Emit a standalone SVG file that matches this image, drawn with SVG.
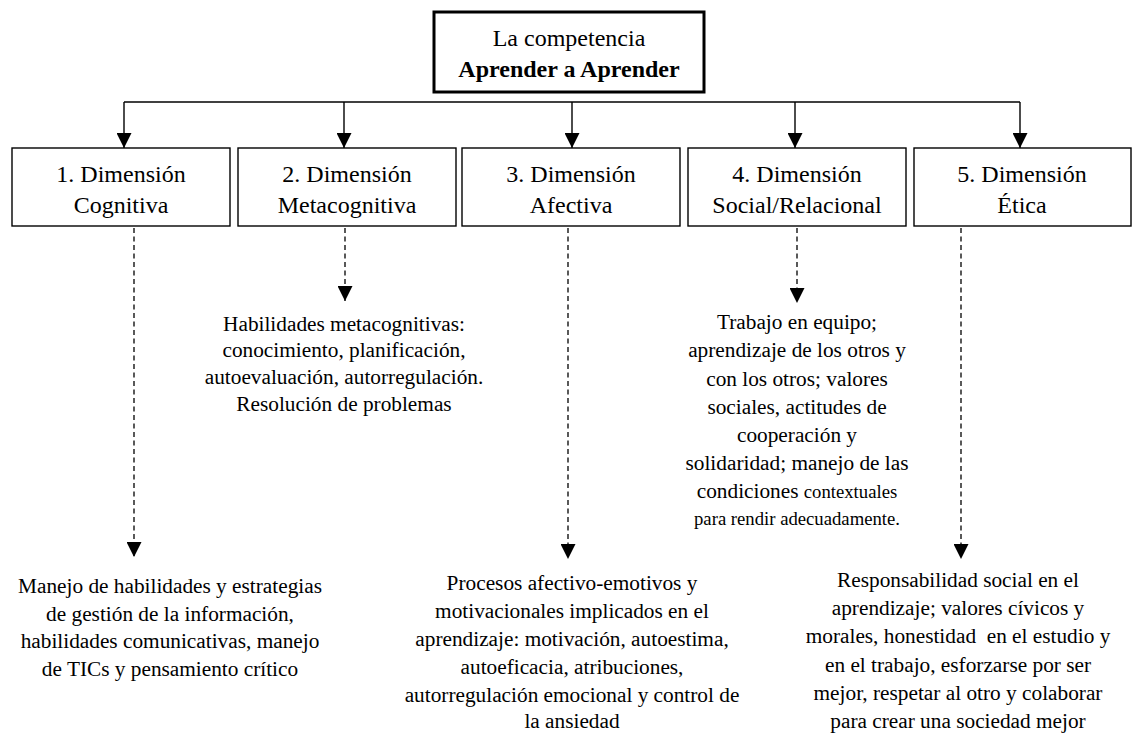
<svg xmlns="http://www.w3.org/2000/svg" width="1132" height="733" viewBox="0 0 1132 733">
<style>
text{font-family:"Liberation Serif","Times New Roman",serif;fill:#000;text-anchor:middle}
.box{fill:#fff;stroke:#000;stroke-width:1.4}
.main{fill:#fff;stroke:#000;stroke-width:3}
.t24{font-size:24px}
.t21{font-size:21.3px}
.sm{font-size:18.7px}
.solid{stroke:#000;stroke-width:1.4;fill:none}
.dash{stroke:#000;stroke-width:1.3;fill:none;stroke-dasharray:5 3.5}
</style>
<defs>
<marker id="ah" markerUnits="userSpaceOnUse" markerWidth="15" markerHeight="15" refX="15" refY="7.5" orient="auto" viewBox="0 0 15 15">
<path d="M0,0 L15,7.5 L0,15 z" fill="#000" stroke="none"/>
</marker>
</defs>
<rect width="1132" height="733" fill="#fff"/>
<g id="connectors">
<line class="solid" x1="124" y1="102" x2="1020" y2="102"/>
<line class="solid" x1="124" y1="102" x2="124" y2="148" marker-end="url(#ah)"/>
<line class="solid" x1="344" y1="102" x2="344" y2="148" marker-end="url(#ah)"/>
<line class="solid" x1="572" y1="102" x2="572" y2="148" marker-end="url(#ah)"/>
<line class="solid" x1="795" y1="102" x2="795" y2="148" marker-end="url(#ah)"/>
<line class="solid" x1="1020" y1="102" x2="1020" y2="148" marker-end="url(#ah)"/>
<line class="dash" x1="134" y1="228" x2="134" y2="557" marker-end="url(#ah)"/>
<line class="dash" x1="345" y1="228" x2="345" y2="301" marker-end="url(#ah)"/>
<line class="dash" x1="568" y1="228" x2="568" y2="559" marker-end="url(#ah)"/>
<line class="dash" x1="797" y1="228" x2="797" y2="303" marker-end="url(#ah)"/>
<line class="dash" x1="961" y1="228" x2="961" y2="559" marker-end="url(#ah)"/>
</g>
<g id="root">
<rect class="main" x="434" y="12" width="270" height="80"/>
<text class="t24" x="569" y="46">La competencia</text>
<text class="t24" x="569" y="77" font-weight="bold">Aprender a Aprender</text>
</g>
<g id="dim1">
<rect class="box" x="12" y="148" width="218" height="78"/>
<text class="t24" x="121" y="182">1. Dimensión</text>
<text class="t24" x="121" y="213">Cognitiva</text>
</g>
<g id="dim2">
<rect class="box" x="238" y="148" width="218" height="78"/>
<text class="t24" x="347" y="182">2. Dimensión</text>
<text class="t24" x="347" y="213">Metacognitiva</text>
</g>
<g id="dim3">
<rect class="box" x="462" y="148" width="218" height="78"/>
<text class="t24" x="571" y="182">3. Dimensión</text>
<text class="t24" x="571" y="213">Afectiva</text>
</g>
<g id="dim4">
<rect class="box" x="688" y="148" width="218" height="78"/>
<text class="t24" x="797" y="182">4. Dimensión</text>
<text class="t24" x="797" y="213">Social/Relacional</text>
</g>
<g id="dim5">
<rect class="box" x="914" y="148" width="217" height="78"/>
<text class="t24" x="1022" y="182">5. Dimensión</text>
<text class="t24" x="1022" y="213">Ética</text>
</g>
<g id="desc1">
<text class="t21" x="170" y="593">Manejo de habilidades y estrategias</text>
<text class="t21" x="170" y="621">de gestión de la información,</text>
<text class="t21" x="170" y="648">habilidades comunicativas, manejo</text>
<text class="t21" x="170" y="676">de TICs y pensamiento crítico</text>
</g>
<g id="desc2">
<text class="t21" x="344" y="331">Habilidades metacognitivas:</text>
<text class="t21" x="344" y="357">conocimiento, planificación,</text>
<text class="t21" x="344" y="384">autoevaluación, autorregulación.</text>
<text class="t21" x="344" y="411">Resolución de problemas</text>
</g>
<g id="desc3">
<text class="t21" x="572" y="590">Procesos afectivo-emotivos y</text>
<text class="t21" x="572" y="618">motivacionales implicados en el</text>
<text class="t21" x="572" y="646">aprendizaje: motivación, autoestima,</text>
<text class="t21" x="572" y="674">autoeficacia, atribuciones,</text>
<text class="t21" x="572" y="702">autorregulación emocional y control de</text>
<text class="t21" x="572" y="728">la ansiedad</text>
</g>
<g id="desc4">
<text class="t21" x="797" y="329">Trabajo en equipo;</text>
<text class="t21" x="797" y="357">aprendizaje de los otros y</text>
<text class="t21" x="797" y="386">con los otros; valores</text>
<text class="t21" x="797" y="414">sociales, actitudes de</text>
<text class="t21" x="797" y="442">cooperación y</text>
<text class="t21" x="797" y="470">solidaridad; manejo de las</text>
<text class="t21" x="797" y="498">condiciones <tspan class="sm">contextuales</tspan></text>
<text class="sm" x="797" y="525">para rendir adecuadamente.</text>
</g>
<g id="desc5">
<text class="t21" x="958" y="587">Responsabilidad social en el</text>
<text class="t21" x="958" y="615">aprendizaje; valores cívicos y</text>
<text class="t21" x="958" y="643" style="white-space:pre">morales, honestidad  en el estudio y</text>
<text class="t21" x="958" y="672">en el trabajo, esforzarse por ser</text>
<text class="t21" x="958" y="700">mejor, respetar al otro y colaborar</text>
<text class="t21" x="958" y="728">para crear una sociedad mejor</text>
</g>
</svg>
